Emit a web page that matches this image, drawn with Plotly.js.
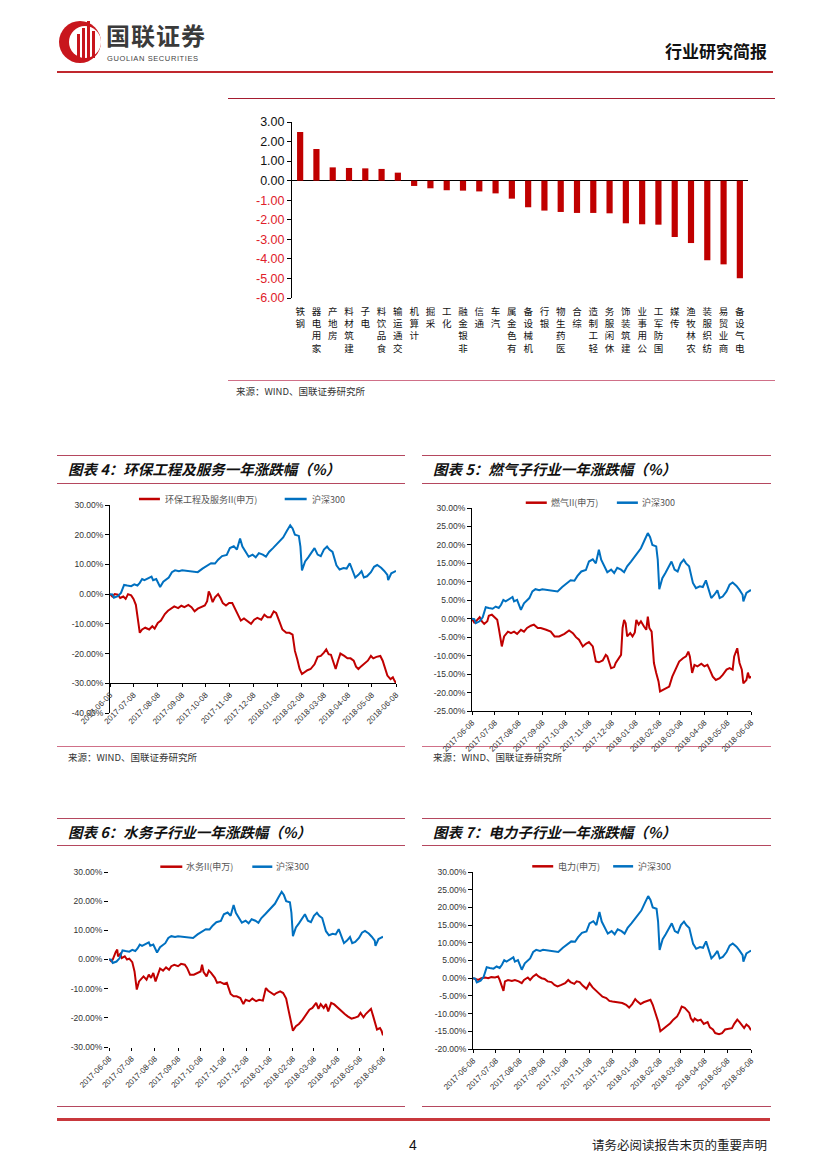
<!DOCTYPE html>
<html><head><meta charset="utf-8">
<script src="https://cdn.plot.ly/plotly-3.0.1.min.js"></script>
<style>
html,body{margin:0;padding:0;background:#fff;}
body{width:827px;height:1169px;position:relative;overflow:hidden;font-family:"Noto Sans CJK SC","Liberation Sans",sans-serif;}
.a{position:absolute;white-space:nowrap;line-height:1;}
.ln{position:absolute;height:0;}
.title{position:absolute;font-weight:700;font-style:italic;font-size:14.5px;color:#111;line-height:1;white-space:nowrap;}
.src{position:absolute;font-size:9.5px;color:#333;line-height:1;white-space:nowrap;}
.chart{position:absolute;}
</style></head><body>

<svg class="a" style="left:57px;top:17px" width="48" height="48" viewBox="0 0 48 48">
  <circle cx="23" cy="25" r="21" fill="#c8161d"/>
  <circle cx="28" cy="25" r="16" fill="#fff"/>
  <rect x="20" y="17" width="3" height="24" fill="#c8161d"/>
  <rect x="25" y="11" width="3" height="30" fill="#c8161d"/>
  <rect x="30" y="4" width="3" height="37" fill="#c8161d"/>
  <rect x="35" y="14" width="3" height="27" fill="#c8161d"/>
</svg>
<div class="a" style="left:106px;top:23px;font-size:24px;font-weight:700;color:#3a3a3a;letter-spacing:1px;">国联证券</div>
<div class="a" style="left:107px;top:55px;font-size:7.5px;color:#444;font-family:'Liberation Sans';letter-spacing:0.6px;">GUOLIAN SECURITIES</div>
<div class="a" style="left:665px;top:42px;font-size:17px;font-weight:700;color:#111;">行业研究简报</div>
<div class="ln" style="left:57px;width:716px;top:71px;border-top:2px solid #c0282e;"></div>
<div class="ln" style="left:228px;width:547px;top:98px;border-top:1px solid #a51c30;"></div>

<div class="ln" style="left:228px;width:547px;top:380px;border-top:1px solid #d07088;"></div>
<div class="src" style="left:236px;top:387px;">来源：WIND、国联证券研究所</div>

<div class="ln" style="left:57px;width:348px;top:455px;border-top:1.5px solid #b5475f;"></div>
<div class="ln" style="left:57px;width:348px;top:483px;border-top:1.5px solid #b5475f;"></div>
<div class="title" style="left:68px;top:462px;">图表 4：环保工程及服务一年涨跌幅（%）</div>
<div class="ln" style="left:422px;width:349px;top:455px;border-top:1.5px solid #b5475f;"></div>
<div class="ln" style="left:422px;width:349px;top:483px;border-top:1.5px solid #b5475f;"></div>
<div class="title" style="left:433px;top:462px;">图表 5：燃气子行业一年涨跌幅（%）</div>
<div class="ln" style="left:57px;width:348px;top:746px;border-top:1px solid #d07088;"></div>
<div class="src" style="left:68px;top:753px;">来源：WIND、国联证券研究所</div>
<div class="ln" style="left:422px;width:349px;top:746px;border-top:1px solid #d07088;"></div>
<div class="src" style="left:433px;top:753px;">来源：WIND、国联证券研究所</div>

<div class="ln" style="left:57px;width:348px;top:818px;border-top:1.5px solid #b5475f;"></div>
<div class="ln" style="left:57px;width:348px;top:845px;border-top:1.5px solid #b5475f;"></div>
<div class="title" style="left:68px;top:825px;">图表 6：水务子行业一年涨跌幅（%）</div>
<div class="ln" style="left:422px;width:349px;top:818px;border-top:1.5px solid #b5475f;"></div>
<div class="ln" style="left:422px;width:349px;top:845px;border-top:1.5px solid #b5475f;"></div>
<div class="title" style="left:433px;top:825px;">图表 7：电力子行业一年涨跌幅（%）</div>
<div class="ln" style="left:57px;width:348px;top:1106px;border-top:1px solid #b5475f;"></div>
<div class="ln" style="left:422px;width:349px;top:1106px;border-top:1px solid #b5475f;"></div>

<div class="ln" style="left:57px;width:713px;top:1118px;border-top:3px solid #c8383c;"></div>
<div class="a" style="left:409px;top:1138px;font-size:14px;font-family:'Liberation Sans';color:#111;">4</div>
<div class="a" style="left:592px;top:1139px;font-size:12.5px;color:#222;">请务必阅读报告末页的重要声明</div>

<div id="bar" class="chart"></div>
<div id="c4" class="chart"></div>
<div id="c5" class="chart"></div>
<div id="c6" class="chart"></div>
<div id="c7" class="chart"></div>

<script>
// ---------- data ----------
const industries = ['钢铁','家用电器','房地产','建筑材料','电子','食品饮料','交通运输','计算机','采掘','化工','非银金融','通信','汽车','有色金属','机械设备','银行','医药生物','综合','轻工制造','休闲服务','建筑装饰','公用事业','国防军工','传媒','农林牧渔','纺织服装','商业贸易','电气设备'];
const industryChange = [2.49,1.62,0.68,0.65,0.63,0.60,0.41,-0.27,-0.39,-0.49,-0.51,-0.55,-0.65,-0.92,-1.36,-1.53,-1.60,-1.65,-1.65,-1.67,-2.18,-2.23,-2.25,-2.88,-3.19,-4.07,-4.28,-4.99];

const monthTicks = ['2017-06-08','2017-07-08','2017-08-08','2017-09-08','2017-10-08','2017-11-08','2017-12-08','2018-01-08','2018-02-08','2018-03-08','2018-04-08','2018-05-08','2018-06-08'];

const hs300Name = '沪深300';
const hs300Dates = ['2017-06-08','2017-06-11','2017-06-13','2017-06-18','2017-06-22','2017-06-24','2017-06-26','2017-06-30','2017-07-05','2017-07-09',
'2017-07-13','2017-07-16','2017-07-19','2017-07-22','2017-07-26','2017-07-31','2017-08-02','2017-08-06','2017-08-11','2017-08-15',
'2017-08-22','2017-08-26','2017-08-30','2017-09-04','2017-09-08','2017-09-15','2017-09-21','2017-09-28','2017-10-04','2017-10-11',
'2017-10-15','2017-10-20','2017-10-24','2017-10-29','2017-11-04','2017-11-08','2017-11-13','2017-11-17','2017-11-21','2017-11-24',
'2017-11-28','2017-12-02','2017-12-07','2017-12-11','2017-12-15','2017-12-20','2017-12-24','2017-12-28','2018-01-02','2018-01-07',
'2018-01-11','2018-01-15','2018-01-20','2018-01-24','2018-01-27','2018-01-30','2018-02-04','2018-02-06','2018-02-08','2018-02-12',
'2018-02-16','2018-02-21','2018-02-24','2018-02-28','2018-03-04','2018-03-08','2018-03-12','2018-03-15','2018-03-19','2018-03-24',
'2018-03-28','2018-04-02','2018-04-06','2018-04-10','2018-04-15','2018-04-17','2018-04-21','2018-04-25','2018-04-28','2018-05-02',
'2018-05-07','2018-05-11','2018-05-15','2018-05-20','2018-05-24','2018-05-28','2018-05-29','2018-06-02','2018-06-05','2018-06-08'];
const hs300Values = [0,-0.1,-1.2,-0.7,0.4,2.0,3.1,2.9,2.7,3.3,
2.9,3.8,5.1,4.7,5.3,5.9,4.7,5.1,2.4,4.2,
5.6,7.4,8.0,7.7,8.0,7.8,7.8,7.4,8.6,9.7,
10.4,10.3,11.6,12.8,13.2,15.5,16.1,15.0,18.7,16.0,
14.2,12.6,13.3,12.4,13.8,13.3,12.6,14.2,15.5,16.9,
18.2,19.1,21.4,23.2,22.1,20.0,19.6,16.0,8.0,11.0,
12.4,14.2,15.5,13.3,12.8,15.0,16.0,15.0,14.2,9.7,
8.3,8.8,8.6,10.4,7.0,5.6,6.5,7.7,5.6,6.0,
7.4,9.2,9.8,8.9,7.8,6.5,4.7,7.0,7.4,7.8];

const envName = '环保工程及服务II(申万)';
const envDates = ['2017-06-08','2017-06-11','2017-06-14','2017-06-18','2017-06-21','2017-06-25','2017-06-28','2017-07-01','2017-07-05','2017-07-08',
'2017-07-11','2017-07-13','2017-07-16','2017-07-19','2017-07-23','2017-07-28','2017-08-01','2017-08-04','2017-08-08','2017-08-12',
'2017-08-17','2017-08-21','2017-08-25','2017-08-29','2017-09-03','2017-09-07','2017-09-11','2017-09-16','2017-09-20','2017-09-24',
'2017-09-28','2017-10-02','2017-10-07','2017-10-10','2017-10-12','2017-10-14','2017-10-17','2017-10-20','2017-10-24','2017-10-27',
'2017-10-30','2017-11-03','2017-11-07','2017-11-11','2017-11-14','2017-11-18','2017-11-22','2017-11-26','2017-11-30','2017-12-05',
'2017-12-09','2017-12-13','2017-12-18','2017-12-22','2017-12-26','2017-12-30','2018-01-03','2018-01-06','2018-01-10','2018-01-14',
'2018-01-19','2018-01-23','2018-01-27','2018-01-30','2018-02-02','2018-02-05','2018-02-08','2018-02-11','2018-02-15','2018-02-19',
'2018-02-24','2018-02-28','2018-03-04','2018-03-08','2018-03-11','2018-03-14','2018-03-17','2018-03-21','2018-03-23','2018-03-26',
'2018-03-29','2018-04-03','2018-04-07','2018-04-11','2018-04-15','2018-04-18','2018-04-21','2018-04-24','2018-04-28','2018-05-03',
'2018-05-07','2018-05-10','2018-05-14','2018-05-19','2018-05-22','2018-05-25','2018-05-28','2018-06-01','2018-06-04','2018-06-06',
'2018-06-08'];
const envValues = [0,-0.8,0,-0.2,-1.3,-0.8,-1.6,0,-0.4,-1.6,
-3.6,-6.9,-13.0,-11.9,-11.3,-11.9,-10.8,-11.6,-9.7,-8.9,
-6.7,-5.6,-4.7,-4.1,-4.7,-3.9,-4.4,-3.6,-4.4,-5.8,
-4.9,-4.4,-3.8,-2.4,0.9,-0.2,-2.7,-1.1,0,-1.3,
-3.0,-3.8,-3.0,-3.0,-4.7,-6.9,-8.9,-8.2,-8.9,-10.0,
-8.6,-8.0,-8.6,-6.9,-7.8,-7.8,-5.8,-6.3,-9.1,-11.9,
-13.0,-13.0,-13.6,-19.1,-21.9,-25.2,-26.9,-26.3,-25.6,-25.2,
-23.6,-21.1,-20.8,-19.7,-18.6,-20.2,-20.4,-23.6,-25.2,-22.4,
-20.0,-20.8,-21.6,-21.6,-22.4,-24.4,-25.2,-24.4,-23.6,-22.4,
-20.8,-21.6,-21.1,-20.8,-22.4,-24.7,-27.4,-28.6,-28.0,-29.1,
-30.0];

const gasName = '燃气II(申万)';
const gasDates = ['2017-06-08','2017-06-11','2017-06-14','2017-06-18','2017-06-21','2017-06-24','2017-06-28','2017-06-30','2017-07-04','2017-07-07',
'2017-07-11','2017-07-13','2017-07-17','2017-07-20','2017-07-25','2017-07-29','2017-08-02','2017-08-06','2017-08-11','2017-08-15',
'2017-08-19','2017-08-24','2017-08-28','2017-09-02','2017-09-06','2017-09-13','2017-09-19','2017-09-24','2017-09-30','2017-10-07',
'2017-10-13','2017-10-18','2017-10-22','2017-10-26','2017-10-31','2017-11-04','2017-11-08','2017-11-13','2017-11-17','2017-11-21',
'2017-11-26','2017-11-30','2017-12-02','2017-12-07','2017-12-11','2017-12-13','2017-12-18','2017-12-20','2017-12-22','2017-12-24',
'2017-12-26','2017-12-28','2018-01-01','2018-01-04','2018-01-07','2018-01-09','2018-01-12','2018-01-15','2018-01-19','2018-01-22',
'2018-01-24','2018-01-26','2018-01-29','2018-02-01','2018-02-04','2018-02-07','2018-02-09','2018-02-14','2018-02-21','2018-02-25',
'2018-03-02','2018-03-06','2018-03-11','2018-03-15','2018-03-18','2018-03-20','2018-03-23','2018-03-26','2018-03-30','2018-04-04',
'2018-04-08','2018-04-12','2018-04-15','2018-04-19','2018-04-23','2018-04-28','2018-05-02','2018-05-07','2018-05-11','2018-05-15',
'2018-05-17','2018-05-21','2018-05-24','2018-05-27','2018-05-29','2018-06-02','2018-06-04','2018-06-06','2018-06-08'];
const gasValues = [0,-1.0,-0.5,0.4,-0.7,-1.4,-0.7,0.8,1.1,0.6,
-0.3,-2.5,-7.5,-4.8,-3.5,-3.9,-3.5,-4.1,-3.0,-3.5,
-2.5,-1.9,-1.6,-2.5,-2.5,-3.0,-3.5,-4.8,-4.8,-4.1,
-3.2,-3.9,-5.0,-5.7,-7.5,-6.8,-6.3,-7.5,-11.6,-11.8,
-11.3,-9.8,-10.2,-13.4,-13.1,-12.0,-10.2,-9.8,-2.5,-0.3,
-1.2,-4.8,-3.9,-4.8,-3.7,-0.3,-1.6,-0.7,-2.1,-3.0,
0.6,-2.5,-3.5,-12.0,-14.7,-17.0,-19.7,-19.1,-18.4,-15.7,
-13.4,-11.6,-10.7,-10.2,-8.9,-10.2,-14.7,-12.5,-12.9,-12.2,
-12.9,-12.5,-13.8,-15.7,-16.6,-16.1,-15.2,-13.8,-13.4,-13.8,
-10.2,-8.0,-12.0,-13.8,-17.5,-16.6,-14.6,-16.1,-15.6];

const waterName = '水务II(申万)';
const waterDates = ['2017-06-08','2017-06-11','2017-06-13','2017-06-15','2017-06-17','2017-06-19','2017-06-20','2017-06-23','2017-06-25','2017-06-29',
'2017-07-02','2017-07-05','2017-07-09','2017-07-12','2017-07-15','2017-07-18','2017-07-21','2017-07-24','2017-07-28','2017-07-31',
'2017-08-03','2017-08-06','2017-08-09','2017-08-12','2017-08-15','2017-08-19','2017-08-23','2017-08-27','2017-08-30','2017-09-03',
'2017-09-08','2017-09-12','2017-09-17','2017-09-20','2017-09-24','2017-09-29','2017-10-03','2017-10-08','2017-10-10','2017-10-12',
'2017-10-16','2017-10-19','2017-10-22','2017-10-27','2017-10-30','2017-11-03','2017-11-08','2017-11-12','2017-11-17','2017-11-21',
'2017-11-25','2017-11-30','2017-12-04','2017-12-07','2017-12-12','2017-12-16','2017-12-21','2017-12-25','2017-12-30','2018-01-03',
'2018-01-06','2018-01-10','2018-01-14','2018-01-17','2018-01-22','2018-01-26','2018-01-30','2018-02-02','2018-02-05','2018-02-08',
'2018-02-12','2018-02-16','2018-02-21','2018-02-25','2018-03-02','2018-03-06','2018-03-11','2018-03-14','2018-03-17','2018-03-21',
'2018-03-24','2018-03-27','2018-03-31','2018-04-04','2018-04-09','2018-04-13','2018-04-18','2018-04-22','2018-04-27','2018-05-01',
'2018-05-06','2018-05-09','2018-05-13','2018-05-16','2018-05-20','2018-05-23','2018-05-26','2018-05-29','2018-05-31','2018-06-04',
'2018-06-06','2018-06-08'];
const waterValues = [0.2,-0.6,0,1.7,2.6,3.4,1.1,1.9,0.5,1.1,
0,0.3,-0.9,-4.1,-10.3,-7.5,-6.6,-5.8,-6.9,-5.2,
-6.3,-4.6,-7.5,-5.2,-3.1,-3.8,-2.7,-3.5,-2.3,-1.8,
-2.3,-1.5,-1.8,-2.9,-5.2,-5.2,-4.6,-4.1,-1.8,-4.3,
-5.8,-3.8,-4.6,-6.3,-8.0,-7.7,-8.4,-8.0,-11.8,-12.6,
-12.6,-13.2,-15.3,-13.8,-14.3,-13.4,-14.3,-13.8,-14.1,-9.8,
-10.7,-11.5,-12.1,-11.5,-10.9,-11.5,-13.4,-17.2,-21.2,-24.4,
-22.9,-22.1,-20.6,-18.9,-17.2,-16.6,-14.9,-16.9,-15.3,-16.6,
-15.3,-17.8,-14.9,-15.4,-16.6,-17.8,-18.7,-19.5,-20.3,-20.0,
-19.5,-18.3,-19.8,-18.7,-17.8,-16.9,-19.5,-21.8,-24.0,-23.5,
-24.4,-26.0];

const powerName = '电力(申万)';
const powerDates = ['2017-06-08','2017-06-11','2017-06-15','2017-06-19','2017-06-24','2017-06-28','2017-07-02','2017-07-07','2017-07-11','2017-07-13',
'2017-07-15','2017-07-18','2017-07-20','2017-07-24','2017-07-29','2017-08-02','2017-08-07','2017-08-11','2017-08-14','2017-08-19',
'2017-08-22','2017-08-26','2017-08-30','2017-09-02','2017-09-06','2017-09-10','2017-09-14','2017-09-19','2017-09-23','2017-09-27',
'2017-10-02','2017-10-07','2017-10-11','2017-10-14','2017-10-19','2017-10-22','2017-10-26','2017-10-30','2017-11-04','2017-11-08',
'2017-11-12','2017-11-17','2017-11-21','2017-11-25','2017-11-30','2017-12-04','2017-12-08','2017-12-13','2017-12-17','2017-12-21',
'2017-12-26','2017-12-30','2018-01-03','2018-01-07','2018-01-10','2018-01-14','2018-01-18','2018-01-23','2018-01-27','2018-01-30',
'2018-02-02','2018-02-06','2018-02-09','2018-02-13','2018-02-18','2018-02-22','2018-02-26','2018-03-03','2018-03-06','2018-03-09',
'2018-03-13','2018-03-17','2018-03-19','2018-03-21','2018-03-24','2018-03-26','2018-03-30','2018-04-03','2018-04-07','2018-04-12',
'2018-04-15','2018-04-19','2018-04-22','2018-04-27','2018-05-01','2018-05-05','2018-05-10','2018-05-14','2018-05-17','2018-05-21',
'2018-05-24','2018-05-27','2018-05-30','2018-06-02','2018-06-05','2018-06-08'];
const powerValues = [0,-0.2,-0.5,0,0.2,0,0.3,0.2,0.5,-0.5,
-1.9,-3.6,-0.9,-0.5,-0.8,-0.5,-0.9,-1.4,-0.5,0.2,
-0.5,0.5,1.1,0.5,0,-0.2,-0.9,-1.1,-1.9,-2.3,
-1.9,-1.4,-0.5,-1.1,-1.6,-0.9,-1.1,-2.1,-3.0,-1.4,
-2.6,-3.6,-4.2,-5.2,-5.6,-6.4,-6.6,-6.8,-7.0,-7.0,
-7.5,-8.3,-7.3,-5.9,-6.6,-7.3,-6.8,-6.4,-6.1,-7.5,
-9.4,-12.2,-15.0,-14.3,-13.6,-12.7,-11.7,-10.8,-9.6,-8.0,
-8.4,-9.4,-9.8,-11.3,-12.2,-11.4,-12.0,-11.7,-12.9,-12.4,
-13.9,-14.5,-15.5,-15.8,-15.5,-14.5,-14.3,-14.1,-12.9,-11.7,
-12.4,-13.1,-14.1,-13.1,-13.6,-14.7];

// ---------- styles ----------
const RED = '#C00000', BLUE = '#0070C0';
const NUMFONT = 'Liberation Sans, Noto Sans CJK SC, sans-serif';
const CJK = 'Noto Sans CJK SC, sans-serif';
const CFG = {staticPlot:true, displayModeBar:false};

function place(id, left, top, w, h){
  const el = document.getElementById(id);
  el.style.left = left+'px'; el.style.top = top+'px';
  el.style.width = w+'px'; el.style.height = h+'px';
}

// ---------- bar chart ----------
(function(){
  const L=220, T=110, W=560, H=272;
  place('bar', L, T, W, H);
  const yv=[]; for(let v=-6; v<=3; v++) yv.push(v);
  const yt = yv.map(v => v<0 ? '<span style="color:#E0202A">'+v.toFixed(2)+'</span>' : v.toFixed(2));
  Plotly.newPlot('bar', [{
    type:'bar', x:industries, y:industryChange, marker:{color:RED}, hoverinfo:'skip'
  }], {
    width:W, height:H, margin:{l:72,r:32,t:12,b:84,pad:0},
    paper_bgcolor:'rgba(0,0,0,0)', plot_bgcolor:'rgba(0,0,0,0)',
    showlegend:false, bargap:0.62,
    font:{family:NUMFONT, size:12.5, color:'#111'},
    xaxis:{type:'category', tickvals:industries,
      ticktext:industries.map(s => Array.from(s).reverse().join('<br>')),
      tickangle:0, ticks:'', showline:false, showgrid:false, zeroline:false,
      tickfont:{family:CJK, size:9.5, color:'#111'}, automargin:false, ticklabelstandoff:6},
    yaxis:{range:[-6,3], tickvals:yv, ticktext:yt, ticks:'outside', ticklen:4, tickcolor:'#000',
      showline:true, linecolor:'#000', linewidth:1, showgrid:false,
      zeroline:true, zerolinecolor:'#000', zerolinewidth:1, automargin:false}
  }, CFG);
})();

// ---------- line charts ----------
function drawLine(id, o){
  place(id, o.left, o.top, o.w, o.h);
  const m=o.m, pw=o.w-m.l-m.r, ph=o.h-m.t-m.b;
  const px = x => (x - o.left - m.l)/pw;
  const py = y => 1 - (y - o.top - m.t)/ph;
  const yv=[]; for(let v=o.yr[0]; v<=o.yr[1]+1e-9; v+=o.dy) yv.push(v);
  const shapes=[], ann=[];
  o.leg.forEach(g => {
    shapes.push({type:'line', xref:'paper', yref:'paper', x0:px(g.x0), x1:px(g.x1), y0:py(o.legY), y1:py(o.legY),
      line:{color:g.color, width:2.5}});
    ann.push({xref:'paper', yref:'paper', x:px(g.tx), y:py(o.legY), xanchor:'left', yanchor:'middle',
      text:g.text, showarrow:false, font:{family:CJK, size:9, color:'#555'}});
  });
  const xa = {type:'date', range:[monthTicks[0], monthTicks[monthTicks.length-1]], tickvals:monthTicks, ticktext:monthTicks,
    tickangle:-45, ticks:'outside', ticklen:3, tickcolor:'#000', showline:o.axisLines, linecolor:'#000', linewidth:1,
    showgrid:false, zeroline:false, automargin:false, tickfont:{family:NUMFONT, size:8, color:'#333'}};
  if(o.xPos!==undefined){ xa.anchor='free'; xa.position=o.xPos; }
  Plotly.newPlot(id, [
    {type:'scatter', mode:'lines', x:o.dates, y:o.values, name:o.name, line:{color:RED, width:2}, hoverinfo:'skip'},
    {type:'scatter', mode:'lines', x:hs300Dates, y:hs300Values, name:hs300Name, line:{color:BLUE, width:2}, hoverinfo:'skip'}
  ], {
    width:o.w, height:o.h, margin:{l:m.l, r:m.r, t:m.t, b:m.b, pad:0},
    paper_bgcolor:'rgba(0,0,0,0)', plot_bgcolor:'rgba(0,0,0,0)', showlegend:false,
    font:{family:NUMFONT, size:8.5, color:'#333'},
    xaxis:xa,
    yaxis:{range:o.yr, tickvals:yv, ticktext:yv.map(v => v.toFixed(2)+'%'), ticks:'outside', ticklen:4, tickcolor:'#000',
      showline:o.axisLines, linecolor:'#000', linewidth:1, showgrid:false, zeroline:false, automargin:false,
      tickfont:{family:NUMFONT, size:8.5, color:'#333'}},
    shapes:shapes, annotations:ann
  }, CFG);
}

drawLine('c4', {left:50, top:488, w:360, h:275, m:{l:60, r:13.5, t:17, b:50},
  yr:[-40,30], dy:10, xPos:1/7, axisLines:true, dates:envDates, values:envValues, name:envName,
  legY:499, leg:[{x0:139,x1:160,tx:163,color:RED,text:envName},{x0:285,x1:307,tx:310,color:BLUE,text:hs300Name}]});

drawLine('c5', {left:420, top:488, w:360, h:275, m:{l:52.3, r:29, t:20.3, b:52},
  yr:[-25,30], dy:5, axisLines:true, dates:gasDates, values:gasValues, name:gasName,
  legY:503, leg:[{x0:526,x1:547,tx:549,color:RED,text:gasName},{x0:617,x1:638,tx:640,color:BLUE,text:hs300Name}]});

drawLine('c6', {left:50, top:852, w:360, h:255, m:{l:58.7, r:27.3, t:20.3, b:59.7},
  yr:[-30,30], dy:10, axisLines:false, dates:waterDates, values:waterValues, name:waterName,
  legY:867, leg:[{x0:160,x1:182,tx:184,color:RED,text:waterName},{x0:252,x1:272,tx:274,color:BLUE,text:hs300Name}]});

drawLine('c7', {left:420, top:852, w:360, h:255, m:{l:52.7, r:29, t:19.7, b:57.7},
  yr:[-20,30], dy:5, axisLines:true, dates:powerDates, values:powerValues, name:powerName,
  legY:866, leg:[{x0:532,x1:553,tx:556,color:RED,text:powerName},{x0:613,x1:633,tx:636,color:BLUE,text:hs300Name}]});
</script>
</body></html>
